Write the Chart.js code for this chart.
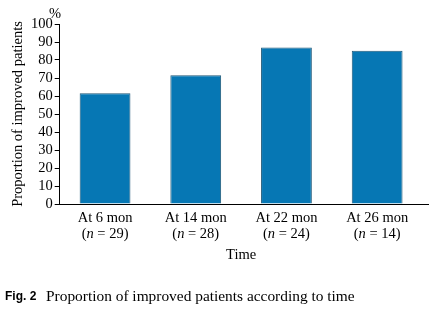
<!DOCTYPE html>
<html>
<head>
<meta charset="utf-8">
<script src="https://cdn.jsdelivr.net/npm/chart.js@4/dist/chart.umd.min.js"></script>
<style>
  html, body { margin: 0; padding: 0; background: #fff; }
  #wrap { position: relative; width: 434px; height: 321px; }
</style>
</head>
<body>
<div id="wrap"><canvas id="chart" width="434" height="321"></canvas></div>
<script>
// data
const timePoints = ['At 6 mon', 'At 14 mon', 'At 22 mon', 'At 26 mon'];
const sampleSizes = [29, 28, 24, 14];
const improvedPct = [61.5, 71.5, 87, 85.2];
const yTicks = [0, 10, 20, 30, 40, 50, 60, 70, 80, 90, 100];

const SERIF = '"Liberation Serif", "Times New Roman", serif';
const FS = 14.5;

// x tick labels with italic n, percent sign, axis extension and caption
const extras = {
    id: 'extras',
    afterDraw(chart) {
        const ctx = chart.ctx;
        const x = chart.scales.x;
        const area = chart.chartArea;
        ctx.save();
        ctx.fillStyle = '#000';
        ctx.textBaseline = 'middle';

        // extend the x axis line a little past the last category
        ctx.strokeStyle = '#000';
        ctx.lineWidth = 1;
        ctx.beginPath();
        ctx.moveTo(area.right - 1, Math.round(area.bottom) + 0.5);
        ctx.lineTo(429, Math.round(area.bottom) + 0.5);
        ctx.stroke();

        const reg = FS + 'px ' + SERIF;
        ctx.font = reg;
        timePoints.forEach((label, i) => {
            const cx = x.getPixelForValue(i);
            ctx.textAlign = 'center';
            ctx.font = reg;
            ctx.fillText(label, cx, area.bottom + 14);

            // second line: (n = 29) with italic n
            const parts = [
                { t: '(', f: reg },
                { t: 'n', f: 'italic ' + reg },
                { t: ' = ' + sampleSizes[i] + ')', f: reg }
            ];
            let total = 0;
            parts.forEach(p => { ctx.font = p.f; total += ctx.measureText(p.t).width; });
            let px = cx - total / 2;
            ctx.textAlign = 'left';
            parts.forEach(p => {
                ctx.font = p.f;
                ctx.fillText(p.t, px, area.bottom + 30);
                px += ctx.measureText(p.t).width;
            });
        });

        ctx.font = reg;
        ctx.textAlign = 'center';
        ctx.fillText('Time', (area.left + area.right) / 2, area.bottom + 51);

        ctx.fillText('%', 55, 14);

        // caption
        ctx.textAlign = 'left';
        ctx.font = 'bold 12px "Liberation Sans", Arial, sans-serif';
        ctx.fillText('Fig. 2', 5, 297);
        ctx.font = '15.4px ' + SERIF;
        ctx.fillText('Proportion of improved patients according to time', 46, 297);
        ctx.restore();
    }
};

new Chart(document.getElementById('chart'), {
    type: 'bar',
    data: {
        labels: timePoints,
        datasets: [{
            data: improvedPct,
            backgroundColor: '#0677b4',
            borderColor: '#1f5878',
            borderWidth: 1,
            borderSkipped: 'bottom',
            barPercentage: 0.56,
            categoryPercentage: 1.0
        }]
    },
    options: {
        responsive: false,
        animation: false,
        events: [],
        layout: { padding: { left: 0, right: 11.5, top: 24, bottom: 0 } },
        plugins: {
            legend: { display: false },
            tooltip: { enabled: false }
        },
        scales: {
            x: {
                offset: true,
                grid: { display: false, drawTicks: false },
                border: { color: '#000', width: 1 },
                ticks: { display: false },
                afterFit(scale) { scale.height = 117; }
            },
            y: {
                min: 0,
                max: 100,
                afterBuildTicks(scale) { scale.ticks = yTicks.map(v => ({ value: v })); },
                grid: { drawOnChartArea: false, tickLength: 5, color: '#000' },
                border: { color: '#000', width: 1 },
                ticks: {
                    color: '#000',
                    padding: 2,
                    autoSkip: false,
                    font: { family: SERIF, size: FS }
                },
                title: {
                    display: true,
                    text: 'Proportion of improved patients',
                    color: '#000',
                    font: { family: SERIF, size: FS },
                    padding: { top: 9, bottom: 0 }
                },
                afterFit(scale) { scale.width = 59.7; }
            }
        }
    },
    plugins: [extras]
});
</script>
</body>
</html>
